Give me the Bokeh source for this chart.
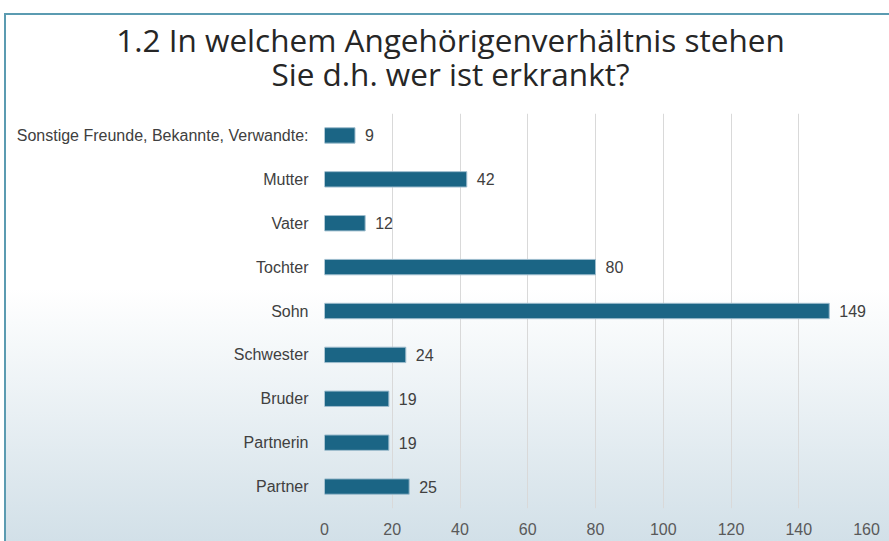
from bokeh.plotting import figure
from bokeh.layouts import column
from bokeh.models import ColumnDataSource, LabelSet, Div, Range1d, FactorRange, FixedTicker
from bokeh.core.properties import value
from bokeh.embed import file_html
from bokeh.resources import INLINE

# data (bottom to top)
categories = ["Partner", "Partnerin", "Bruder", "Schwester", "Sohn", "Tochter",
              "Vater", "Mutter", "Sonstige Freunde, Bekannte, Verwandte:"]
counts = [25, 19, 19, 24, 149, 80, 12, 42, 9]
x_ticks = [0, 20, 40, 60, 80, 100, 120, 140, 160]
title_lines = ["1.2 In welchem Angehörigenverhältnis stehen", "Sie d.h. wer ist erkrankt?"]

src = ColumnDataSource(dict(cat=categories, val=counts, txt=[str(v) for v in counts]))

title = Div(text='<div style="padding-top:8px; padding-left:6px">' + "<br>".join(title_lines) + "</div>",
            width=883, height=98, margin=0,
            styles={"font-family": "'Open Sans'", "font-size": "31.5px", "line-height": "34px",
                    "color": "#262626", "text-align": "center"})

p = figure(width=883, height=428, output_backend="svg", toolbar_location=None,
           y_range=FactorRange(factors=categories, range_padding=0),
           x_range=Range1d(0, 160), margin=0,
           min_border_left=318, min_border_right=23, min_border_top=0, min_border_bottom=33)
p.title = None
p.background_fill_alpha = 0
p.border_fill_alpha = 0
p.outline_line_color = None

p.hbar(y="cat", right="val", height=0.35, source=src,
       fill_color="#1b6585", line_color="#9dbccd", line_width=1)

labels = LabelSet(x="val", y="cat", text="txt", source=src, x_offset=10,
                  text_baseline="middle", text_font=value("Liberation Sans"),
                  text_font_size=value("16px"), text_color=value("#404040"))
p.add_layout(labels)

p.xaxis.ticker = FixedTicker(ticks=x_ticks)
p.xaxis.axis_line_color = None
p.xaxis.major_tick_line_color = None
p.xaxis.minor_tick_line_color = None
p.xaxis.major_label_standoff = 8
p.xaxis.major_label_text_font = "Liberation Sans"
p.xaxis.major_label_text_font_size = "16px"
p.xaxis.major_label_text_color = "#595959"

p.yaxis.axis_line_color = None
p.yaxis.major_tick_line_color = None
p.yaxis.minor_tick_line_color = None
p.yaxis.major_label_standoff = 10
p.yaxis.major_label_text_font = "Liberation Sans"
p.yaxis.major_label_text_font_size = "16px"
p.yaxis.major_label_text_color = "#404040"

p.xgrid.grid_line_color = "#d9d9d9"
p.xgrid.grid_line_width = 1
p.ygrid.grid_line_color = None

layout = column(title, p, spacing=0, styles={
    "margin-left": "4px",
    "margin-top": "13px",
    "border-left": "2px solid #5b9bb1",
    "border-top": "2px solid #5b9bb1",
    "background": "linear-gradient(to bottom, #ffffff 0%, #ffffff 52%, #d2e0e8 100%)",
})

open("out.html", "w").write(file_html(layout, INLINE))
